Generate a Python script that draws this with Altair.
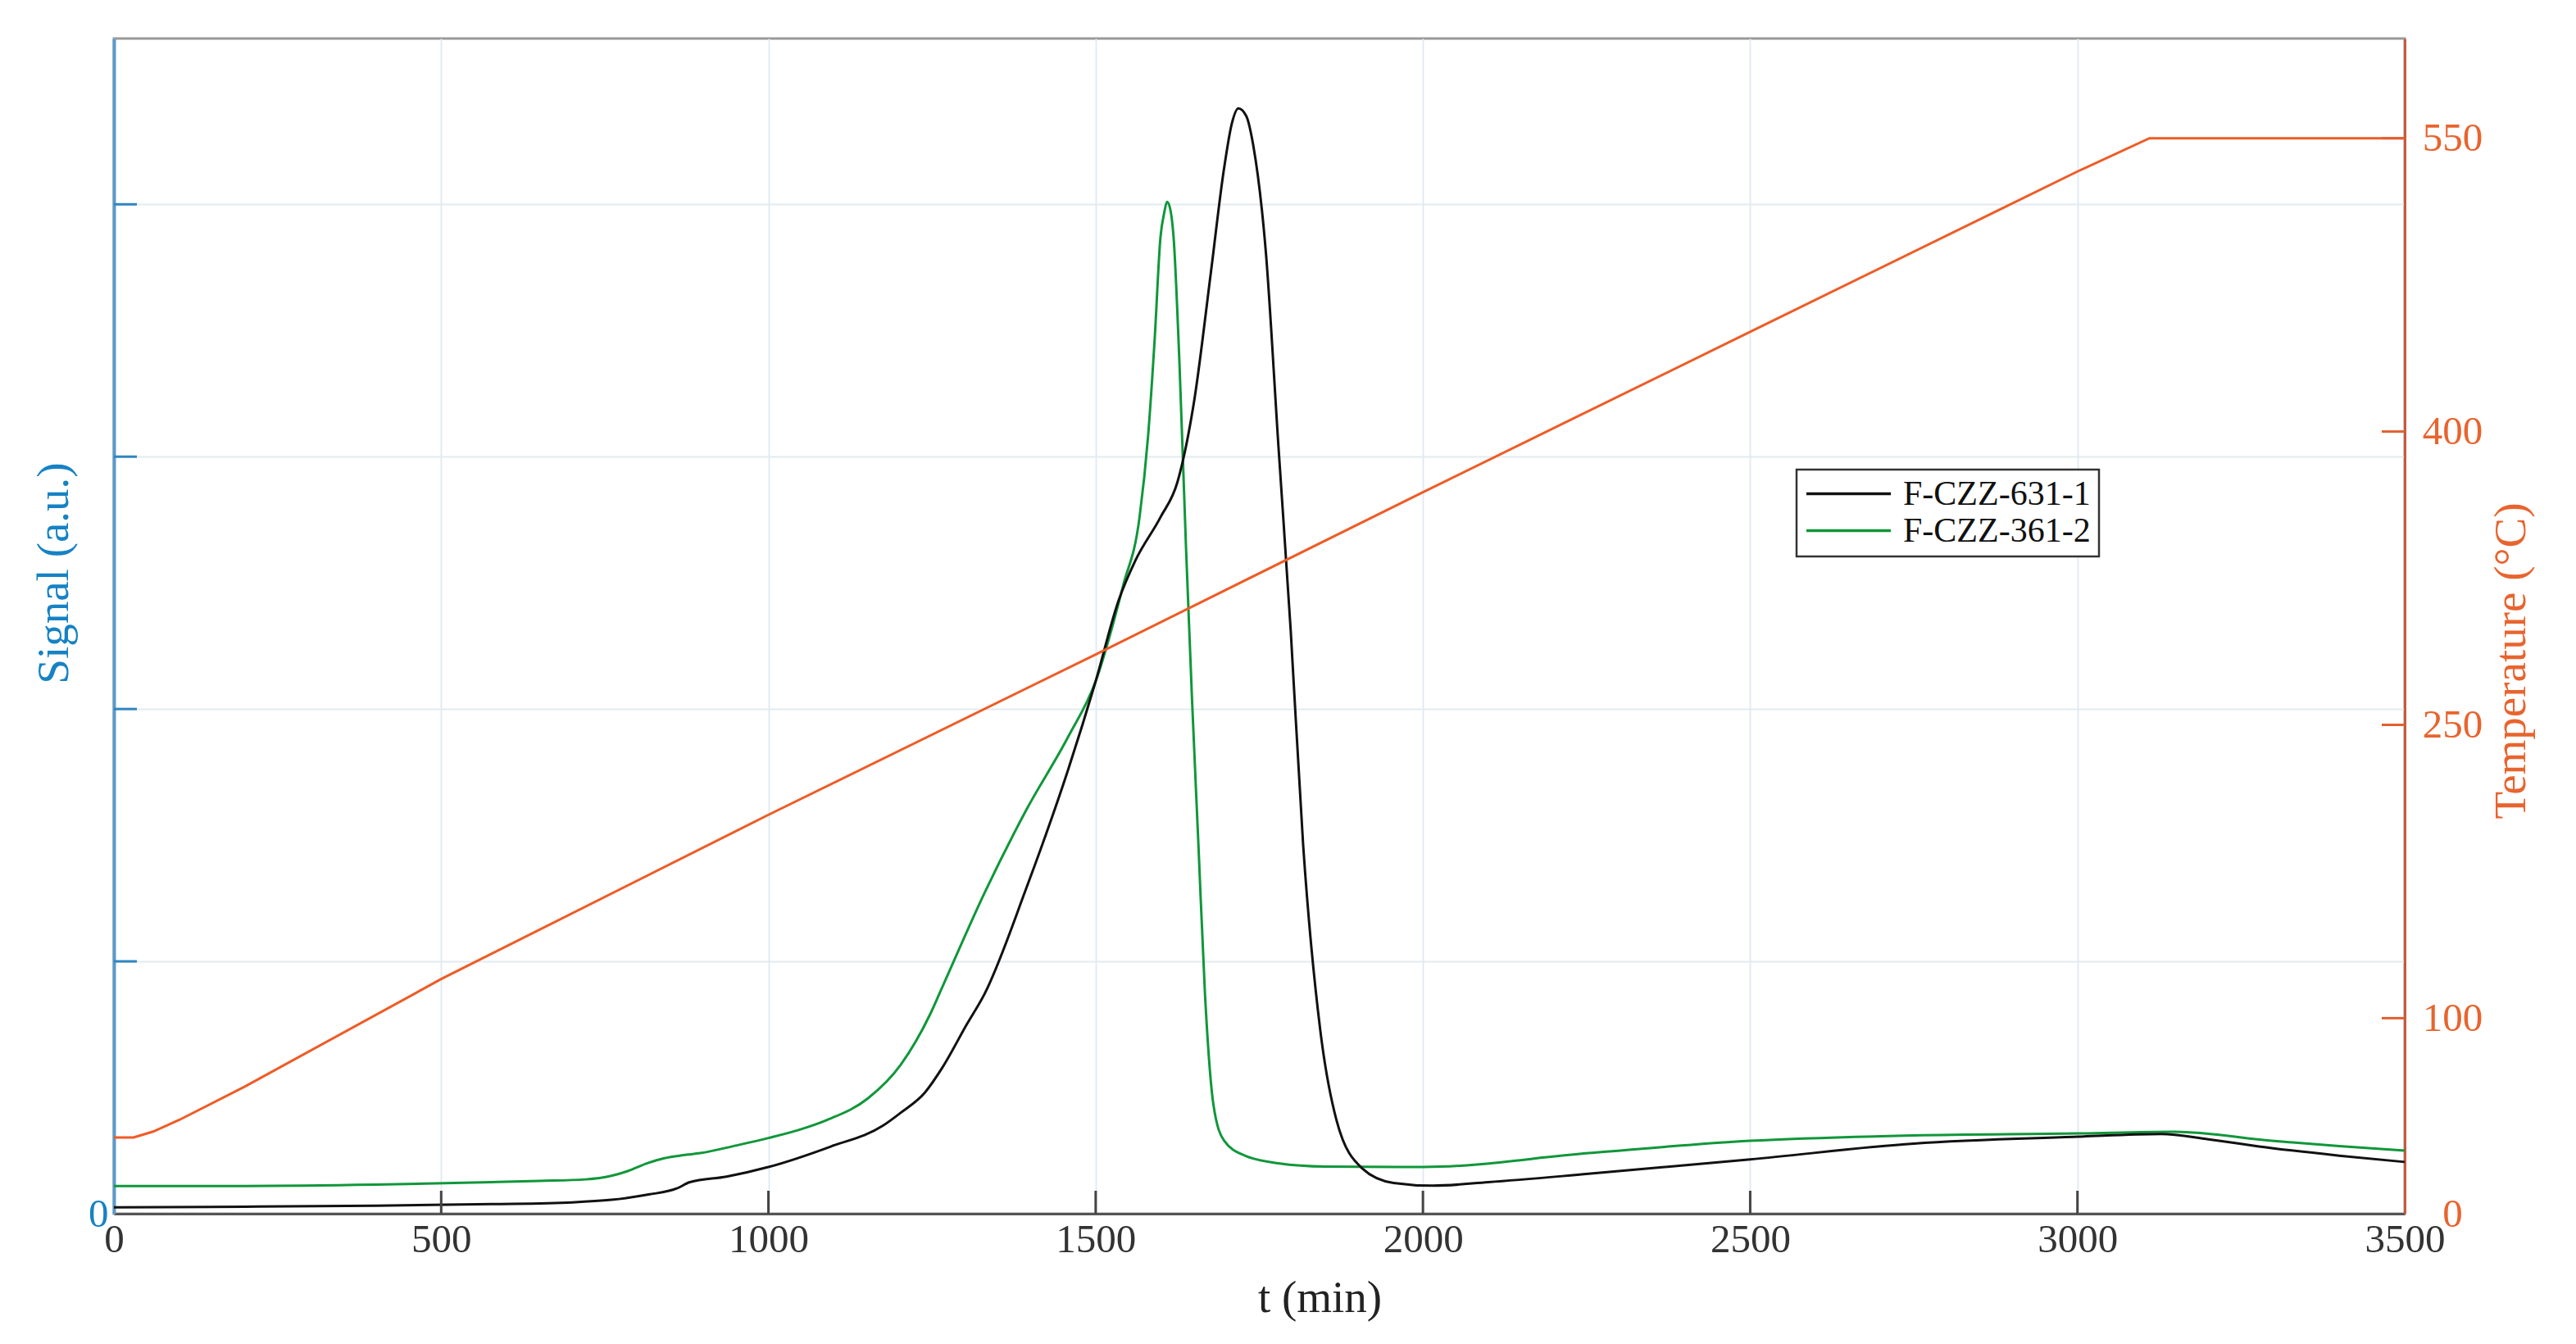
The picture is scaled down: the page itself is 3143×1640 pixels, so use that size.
import altair as alt
import pandas as pd

# ---------------- data ----------------
series_names = ["F-CZZ-631-1", "F-CZZ-361-2"]
series_colors = ["#111111", "#10973A"]

t_black = [0, 200, 400, 577, 700, 760, 817, 860, 880, 936, 1000, 1096, 1175, 1202, 1239,
           1266, 1303, 1330, 1394, 1458, 1500, 1535, 1561, 1599, 1625, 1651, 1676, 1696, 1708, 1718,
           1730, 1741, 1760, 1779, 1798, 1817, 1843, 1868, 1907, 1955, 2015, 2100, 2253, 2500, 2750,
           3000, 3128, 3200, 3297, 3400, 3500]
s_black = [0.025, 0.028, 0.032, 0.038, 0.045, 0.055, 0.076, 0.10, 0.125, 0.147, 0.185, 0.267, 0.349, 0.40, 0.48,
           0.58, 0.75, 0.87, 1.29, 1.76, 2.11, 2.43, 2.59, 2.76, 2.90, 3.23, 3.73, 4.14, 4.32, 4.38,
           4.35, 4.23, 3.81, 3.05, 2.31, 1.46, 0.73, 0.37, 0.18, 0.122, 0.111, 0.125, 0.158, 0.215, 0.278,
           0.305, 0.316, 0.295, 0.26, 0.23, 0.205]

t_green = [0, 200, 400, 577, 650, 721, 760, 785, 815, 841, 870, 896, 950, 1000, 1050,
           1088, 1152, 1202, 1247, 1266, 1330, 1394, 1458, 1500, 1542, 1567, 1580, 1590, 1599, 1605,
           1609, 1614, 1619, 1628, 1638, 1647, 1657, 1667, 1680, 1696, 1728, 1779, 1850, 2000, 2253,
           2500, 2750, 3000, 3148, 3297, 3400, 3500]
s_green = [0.11, 0.11, 0.115, 0.125, 0.13, 0.136, 0.15, 0.169, 0.20, 0.22, 0.232, 0.24, 0.27, 0.30, 0.335,
           0.37, 0.457, 0.59, 0.79, 0.90, 1.27, 1.60, 1.89, 2.11, 2.49, 2.76, 3.08, 3.46, 3.87, 3.97,
           4.01, 3.98, 3.87, 3.37, 2.64, 2.05, 1.46, 0.87, 0.43, 0.29, 0.23, 0.20, 0.187, 0.185, 0.24,
           0.289, 0.31, 0.318, 0.325, 0.289, 0.268, 0.25]

t_temp = [0, 30, 60, 100, 200, 500, 1000, 1500, 2000, 2500, 3000, 3110, 3500]
temp_c = [39, 39, 42, 48, 65, 120, 204, 286, 369, 451, 533, 550, 550]

x_ticks = [0, 500, 1000, 1500, 2000, 2500, 3000, 3500]
signal_ticks = [0, 1, 2, 3, 4]
temp_ticks = [0, 100, 250, 400, 550]

# ---------------- style ----------------
W, H = 2795, 1434
FONT = "Liberation Serif"
BLUE = "#1682C4"
ORANGE_LINE = "#EF5B25"
ORANGE_TXT = "#E8642E"
GRID = "#E2EBF1"

sig_df = pd.concat([
    pd.DataFrame({"t": t_green, "S": s_green, "series": series_names[1]}),
    pd.DataFrame({"t": t_black, "S": s_black, "series": series_names[0]}),
], ignore_index=True)
temp_df = pd.DataFrame({"t": t_temp, "T": temp_c})

xscale = alt.Scale(domain=[0, 3500], nice=False, zero=False)
sscale = alt.Scale(domain=[0, 4.657], nice=False)
tscale = alt.Scale(domain=[0, 601], nice=False)

x_axis = alt.Axis(
    values=x_ticks, title="t (min)", grid=True, gridColor=GRID, gridWidth=2,
    domainColor="#555555", domainWidth=3, ticks=False, tickSize=0,
    labelFont=FONT, labelFontSize=49, labelColor="#333333", labelPadding=7,
    labelFlush=False, format="d",
    titleFont=FONT, titleFontSize=55, titleFontWeight="normal", titleColor="#222222",
    titleX=1471, titleY=119, titleAlign="center", titleBaseline="alphabetic",
)

left_axis = alt.Axis(
    orient="left", values=signal_ticks, labelExpr="datum.value == 0 ? '0' : ''",
    title="Signal (a.u.)", grid=True, gridColor=GRID, gridWidth=2,
    domainColor="#5B9BC9", domainWidth=4, ticks=False, tickSize=0,
    labelColor=BLUE, labelFont=FONT, labelFontSize=49, labelPadding=7,
    labelAlign="right", labelBaseline="middle", labelFlush=False,
    titleColor=BLUE, titleFont=FONT, titleFontSize=55, titleFontWeight="normal",
    titleAngle=270, titleX=-57, titleY=652, titleAlign="center", titleBaseline="alphabetic",
)

right_axis = alt.Axis(
    orient="right", values=temp_ticks, title="Temperature (°C)", grid=False,
    domainColor="#C85A3C", domainWidth=3, ticks=False, tickSize=0,
    labelColor=ORANGE_TXT, labelFont=FONT, labelFontSize=49, labelPadding=58,
    labelAlign="center", labelBaseline="middle", labelFlush=False,
    titleColor=ORANGE_TXT, titleFont=FONT, titleFontSize=55, titleFontWeight="normal",
    titleAngle=270, titleX=146, titleY=759, titleAlign="center", titleBaseline="alphabetic",
)

legend = alt.Legend(
    title=None, orient="none", legendX=2053, legendY=526,
    symbolType="stroke", symbolSize=10609, symbolStrokeWidth=3.5,
    clipHeight=39, rowPadding=2, labelFont=FONT, labelFontSize=42, labelColor="#111111",
    labelOffset=13, labelLimit=600, padding=10, fillColor="white", strokeColor="#333333",
)

lines = alt.Chart(sig_df).mark_line(strokeWidth=3, interpolate="monotone").encode(
    x=alt.X("t:Q", scale=xscale, axis=x_axis),
    y=alt.Y("S:Q", scale=sscale, axis=left_axis),
    color=alt.Color("series:N", scale=alt.Scale(domain=series_names, range=series_colors),
                    legend=legend),
)

left_tick_df = pd.DataFrame({"S": signal_ticks[1:]})
left_ticks = alt.Chart(left_tick_df).mark_rule(color="#2E86C1", strokeWidth=3).encode(
    y=alt.Y("S:Q", scale=sscale, axis=left_axis),
    x=alt.value(0), x2=alt.value(28),
)

x_tick_df = pd.DataFrame({"t": x_ticks[1:-1]})
x_tick_marks = alt.Chart(x_tick_df).mark_rule(color="#444444", strokeWidth=3).encode(
    x=alt.X("t:Q", scale=xscale, axis=x_axis),
    y=alt.value(H - 28), y2=alt.value(H),
)

left = alt.layer(lines, left_ticks, x_tick_marks)

temp_line = alt.Chart(temp_df).mark_line(color=ORANGE_LINE, strokeWidth=3).encode(
    x=alt.X("t:Q", scale=xscale, axis=x_axis),
    y=alt.Y("T:Q", scale=tscale, axis=right_axis),
)

right_tick_df = pd.DataFrame({"T": temp_ticks[1:]})
right_ticks = alt.Chart(right_tick_df).mark_rule(color="#E06030", strokeWidth=3).encode(
    y=alt.Y("T:Q", scale=tscale, axis=right_axis),
    x=alt.value(W - 28), x2=alt.value(W),
)

right = alt.layer(temp_line, right_ticks)

chart = (
    alt.layer(left, right)
    .resolve_scale(y="independent")
    .properties(
        width=W, height=H,
        padding={"left": 131, "top": 39, "right": 201, "bottom": 151},
        autosize=alt.AutoSizeParams(type="none"),
        background="white",
    )
    .configure_view(stroke="#999999", strokeWidth=3)
    .configure_legend(strokeWidth=2.5)
)

chart.save("out.html", embed_options={"renderer": "svg", "actions": False})
